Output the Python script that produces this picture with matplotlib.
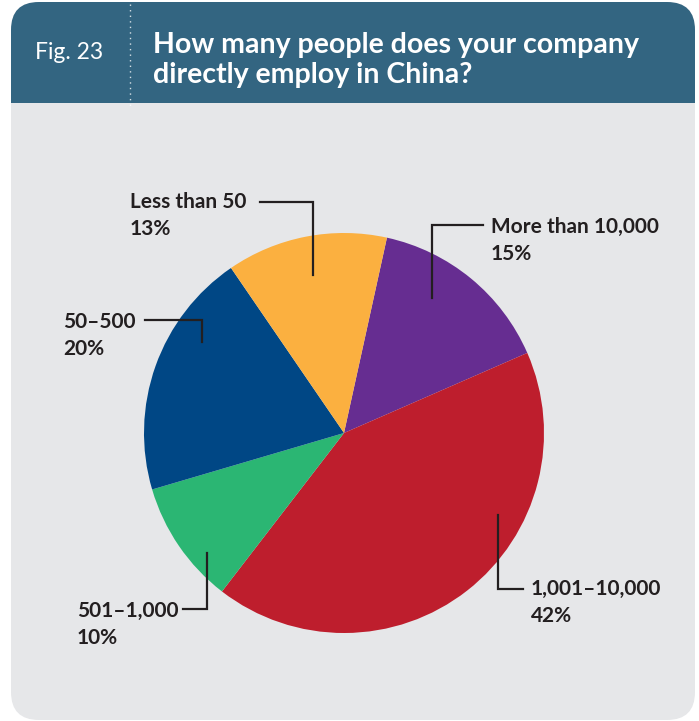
"""Survey figure: company headcount in China, pie with leader-line labels."""

import matplotlib
matplotlib.use("Agg")
import matplotlib.pyplot as plt
from matplotlib.patches import FancyBboxPatch, Rectangle

# data
labels = ["More than 10,000", "1,001–10,000", "501–1,000", "50–500", "Less than 50"]
shares = [15, 42, 10, 20, 13]
colors = ["#662d91", "#be1e2d", "#2bb673", "#004785", "#fbb040"]

W, H = 699, 721
HEADER = "#336581"
CARD = "#e6e7e9"
TEXT = "#231f20"
FONT = ["Lato", "DejaVu Sans"]


def Y(y):
    # image rows run top-down, axes run bottom-up
    return H - y


fig = plt.figure(figsize=(W / 100, H / 100), dpi=100)
fig.patch.set_facecolor("white")
ax = fig.add_axes([0, 0, 1, 1])

# card background and header band
ax.add_patch(FancyBboxPatch((11, Y(720)), 684, 718, boxstyle="round,pad=0,rounding_size=28",
                            fc=CARD, ec="none", zorder=0))
ax.add_patch(FancyBboxPatch((11, Y(103)), 684, 101, boxstyle="round,pad=0,rounding_size=28",
                            fc=HEADER, ec="none", zorder=1))
ax.add_patch(Rectangle((11, Y(103)), 684, 40, fc=HEADER, ec="none", zorder=1))
ax.plot([130, 130], [Y(4), Y(108)], color="white", lw=1, ls=(0, (1, 3)), alpha=0.8, zorder=2)

ax.text(35, Y(59), "Fig. 23", color="white", fontsize=16.5, family=FONT, zorder=3)
ax.text(153, Y(53), "How many people does your company", color="white", fontsize=20.5,
        fontweight="bold", family=FONT, zorder=3)
ax.text(153, Y(83), "directly employ in China?", color="white", fontsize=20.5,
        fontweight="bold", family=FONT, zorder=3)

# pie
ax.pie(shares, colors=colors, startangle=77.6, counterclock=False,
       center=(344, Y(433)), radius=200, wedgeprops=dict(linewidth=0), frame=True)

# leader lines (image coords)
leaders = [
    [(483, 225), (432, 225), (432, 298)],
    [(523, 589), (498, 589), (498, 515)],
    [(183, 609), (207, 609), (207, 553)],
    [(145, 320), (202, 320), (202, 342)],
    [(260, 202), (313, 202), (313, 275)],
]
label_pos = [(491, 233), (531, 595), (77, 617), (63, 328), (130, 208)]

for pts, (tx, ty), name, pct in zip(leaders, label_pos, labels, shares):
    xs = [p[0] for p in pts]
    ys = [Y(p[1]) for p in pts]
    ax.plot(xs, ys, color=TEXT, lw=1.6, solid_joinstyle="miter", zorder=4)
    ax.text(tx, Y(ty), name, color=TEXT, fontsize=15, fontweight="bold", family=FONT, zorder=5)
    ax.text(tx, Y(ty + 27), f"{pct}%", color=TEXT, fontsize=15, fontweight="bold",
            family=FONT, zorder=5)

ax.set_xlim(0, W)
ax.set_ylim(0, H)
ax.set_aspect("auto")
ax.axis("off")

fig.savefig("out.png", dpi=100, facecolor="white")
